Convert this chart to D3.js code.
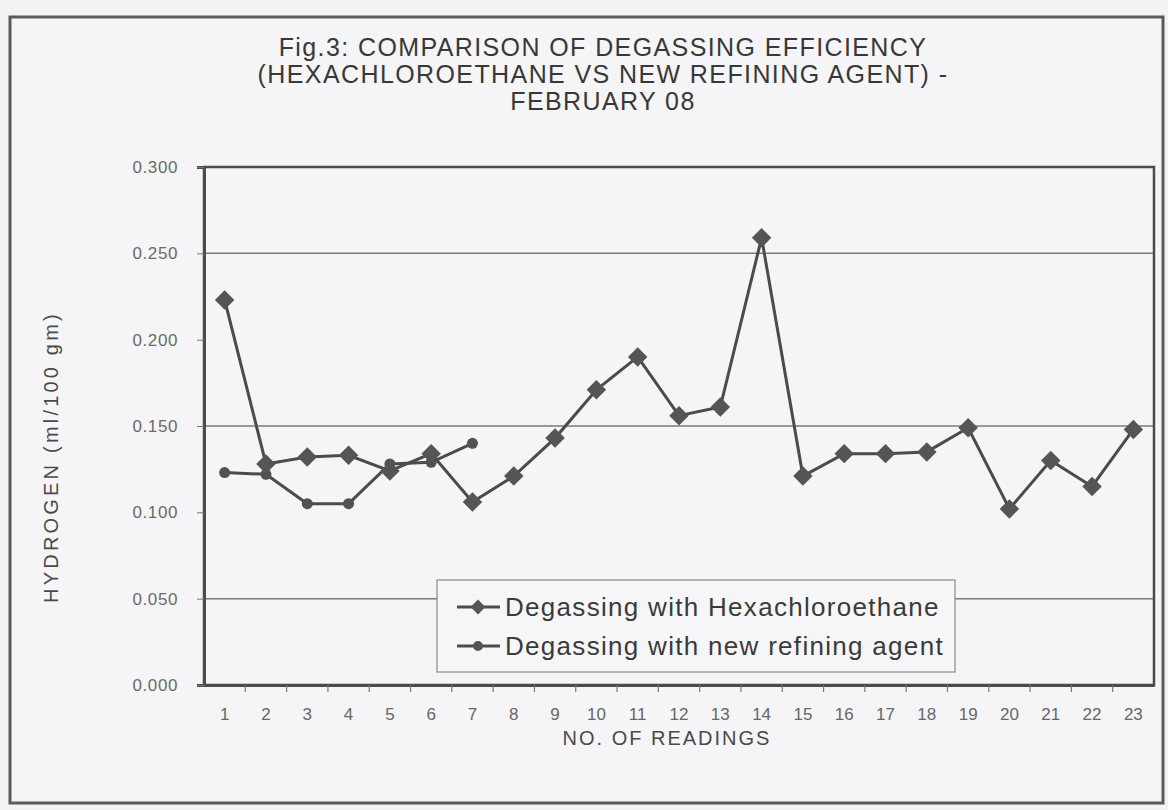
<!DOCTYPE html>
<html lang="en">
<head>
  <meta charset="UTF-8">
  <title>Fig.3 degassing efficiency</title>
  <style>
    *{ margin:0; padding:0; box-sizing:border-box }
    html, body {
      width:100%; height:100%; background:#f3f3f5; overflow:hidden;
      font-family:"Liberation Sans", Arial, sans-serif;
    }
    svg { position:absolute; top:0; left:0 }
    .title  { fill:#383838; font-size:25px; letter-spacing:1.4px }
    .tick-y text { fill:#6a6a6a; font-size:17px; letter-spacing:0.6px }
    .tick-x text { fill:#666; font-size:17px }
    .axis-title { fill:#4a4a4a; font-size:20px }
    .grid { stroke:#7a7a7a; stroke-width:1.5 }
    .leg-text { fill:#3a3a3a; font-size:26px; letter-spacing:1.3px }
  </style>
  <script src="https://cdn.jsdelivr.net/npm/d3@7/dist/d3.min.js"></script>
</head>
<body>
  <svg id="chart"></svg>
  <script>
    // data
    const readings = ["1","2","3","4","5","6","7","8","9","10","11","12",
                      "13","14","15","16","17","18","19","20","21","22","23"];
    const hexachloroethane = [0.223, 0.128, 0.132, 0.133, 0.124, 0.134, 0.106, 0.121,
                              0.143, 0.171, 0.190, 0.156, 0.161, 0.259, 0.121, 0.134,
                              0.134, 0.135, 0.149, 0.102, 0.130, 0.115, 0.148];
    const newAgent = [0.123, 0.122, 0.105, 0.105, 0.128, 0.129, 0.140];
    const yTicks = [0, 0.05, 0.10, 0.15, 0.20, 0.25, 0.30];
    const gridVals = [0.05, 0.15, 0.25];
    const seriesNames = ["Degassing with Hexachloroethane", "Degassing with new refining agent"];
    const titleLines = ["Fig.3: COMPARISON OF DEGASSING EFFICIENCY",
                        "(HEXACHLOROETHANE VS NEW REFINING AGENT) -",
                        "FEBRUARY 08"];

    const W = 1168, H = 810;
    const P = { left:204, right:1154, top:167, bottom:685 };
    const ink = "#4b4b4b";

    const svg = d3.select("#chart").attr("width",W).attr("height",H);

    // outer frame
    svg.append("rect")
      .attr("x",10).attr("y",17).attr("width",1153).attr("height",786)
      .attr("fill","#f5f5f7").attr("stroke","#5a5a5a").attr("stroke-width",3);

    // title
    svg.append("g").selectAll("text").data(titleLines).join("text")
      .attr("class","title")
      .attr("x",603).attr("y",(d,i)=>56+i*27)
      .attr("text-anchor","middle")
      .text(d=>d);

    const x = d3.scaleBand().domain(readings).range([P.left,P.right]);
    const cx = d => x(d) + x.bandwidth()/2;
    const y = d3.scaleLinear().domain([0,0.3]).range([P.bottom,P.top]);

    // gridlines
    svg.append("g").selectAll("line").data(gridVals).join("line")
      .attr("class","grid")
      .attr("x1",P.left).attr("x2",P.right)
      .attr("y1",d=>y(d)).attr("y2",d=>y(d));

    // plot border
    svg.append("rect")
      .attr("x",P.left).attr("y",P.top)
      .attr("width",P.right-P.left).attr("height",P.bottom-P.top)
      .attr("fill","none").attr("stroke",ink).attr("stroke-width",2.5);

    // y axis
    const gy = svg.append("g").attr("class","tick-y")
      .attr("transform",`translate(${P.left},0)`)
      .call(d3.axisLeft(y).tickValues(yTicks).tickFormat(d3.format(".3f"))
              .tickSize(7).tickPadding(19));
    gy.select(".domain").attr("stroke",ink).attr("stroke-width",3);
    gy.selectAll(".tick line").attr("stroke","#777");
    gy.selectAll("text").attr("font-family","Liberation Sans, Arial, sans-serif");

    // x axis: labels at centres, ticks on category boundaries
    const gx = svg.append("g").attr("class","tick-x")
      .attr("transform",`translate(0,${P.bottom})`)
      .call(d3.axisBottom(x).tickSize(0).tickPadding(23));
    gx.select(".domain").attr("stroke",ink).attr("stroke-width",3);
    gx.selectAll("text").attr("font-family","Liberation Sans, Arial, sans-serif");
    svg.append("g").selectAll("line").data(readings.slice(1)).join("line")
      .attr("x1",d=>x(d)).attr("x2",d=>x(d))
      .attr("y1",P.bottom).attr("y2",P.bottom+7)
      .attr("stroke","#777").attr("stroke-width",1.2);

    // axis titles
    svg.append("text").attr("class","axis-title")
      .attr("transform","translate(58,457) rotate(-90)")
      .attr("text-anchor","middle").attr("letter-spacing","3.2px")
      .text("HYDROGEN (ml/100 gm)");
    svg.append("text").attr("class","axis-title")
      .attr("x",667).attr("y",745).attr("text-anchor","middle")
      .attr("letter-spacing","2px")
      .text("NO. OF READINGS");

    // series
    const line = d3.line().x((d,i)=>cx(readings[i])).y(d=>y(d));
    const diamond = d3.symbol(d3.symbolSquare, 190);

    svg.append("path").datum(newAgent)
      .attr("d",line).attr("fill","none")
      .attr("stroke",ink).attr("stroke-width",3);
    svg.append("g").selectAll("circle").data(newAgent).join("circle")
      .attr("cx",(d,i)=>cx(readings[i])).attr("cy",d=>y(d))
      .attr("r",5.5).attr("fill","#525252");

    svg.append("path").datum(hexachloroethane)
      .attr("d",line).attr("fill","none")
      .attr("stroke",ink).attr("stroke-width",3);
    svg.append("g").selectAll("path").data(hexachloroethane).join("path")
      .attr("d",diamond)
      .attr("transform",(d,i)=>`translate(${cx(readings[i])},${y(d)}) rotate(45)`)
      .attr("fill","#555");

    // legend
    const lg = svg.append("g");
    lg.append("rect")
      .attr("x",437).attr("y",580).attr("width",518).attr("height",92)
      .attr("fill","#f6f6f8").attr("stroke","#8a8a8a").attr("stroke-width",1.2);
    seriesNames.forEach((name,i)=>{
      const ly = 607 + i*39;
      lg.append("line").attr("x1",457).attr("x2",500).attr("y1",ly).attr("y2",ly)
        .attr("stroke",ink).attr("stroke-width",3);
      if(i===0){
        lg.append("path").attr("d",d3.symbol(d3.symbolSquare,110))
          .attr("transform",`translate(478,${ly}) rotate(45)`).attr("fill","#555");
      } else {
        lg.append("circle").attr("cx",478).attr("cy",ly).attr("r",5).attr("fill","#555");
      }
      lg.append("text").attr("class","leg-text")
        .attr("x",505).attr("y",ly+9).text(name);
    });
  </script>
</body>
</html>
